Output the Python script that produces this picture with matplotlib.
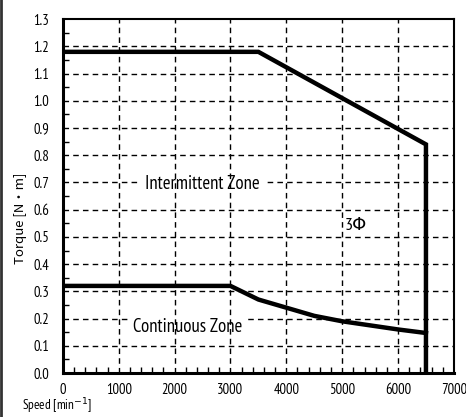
import matplotlib
matplotlib.use("Agg")
import matplotlib.pyplot as plt
from matplotlib.lines import Line2D
import numpy as np

# intermittent zone boundary
inter_speed = [0, 3500, 6500, 6500]
inter_torque = [1.18, 1.18, 0.84, 0.0]

# continuous zone boundary
cont_speed = [0, 3000, 3200, 3500, 4000, 4500, 5000, 5500, 6000, 6500]
cont_torque = [0.32, 0.32, 0.30, 0.27, 0.24, 0.21, 0.19, 0.175, 0.16, 0.147]

x_ticks = [0, 1000, 2000, 3000, 4000, 5000, 6000, 7000]
y_ticks = [0.0, 0.1, 0.2, 0.3, 0.4, 0.5, 0.6, 0.7, 0.8, 0.9, 1.0, 1.1, 1.2, 1.3]

narrow = ['PT Sans Narrow', 'DejaVu Sans']

fig = plt.figure(figsize=(4.66, 4.17), dpi=100)
ax = fig.add_axes([0.135, 0.1055, 0.839, 0.8485])

ax.set_xlim(0, 7000)
ax.set_ylim(0, 1.3)

# grid drawn by hand so the text boxes can hide the horizontal dashes
for y in y_ticks[1:-1]:
    ax.axhline(y, color='black', lw=1.0, ls=(0, (4, 3)), zorder=1)
for x in x_ticks[1:-1]:
    ax.axvline(x, color='black', lw=1.0, ls=(0, (4, 3)), zorder=3)

ax.plot(inter_speed, inter_torque, color='black', lw=3.2, zorder=5,
        solid_joinstyle='miter')
ax.plot(cont_speed, cont_torque, color='black', lw=3.2, zorder=5)

ax.text(2500, 0.695, 'Intermittent Zone', ha='center', va='center',
        fontsize=13.5, family=narrow, zorder=2,
        bbox=dict(facecolor='white', edgecolor='none', pad=3))
ax.text(2240, 0.17, 'Continuous Zone', ha='center', va='center',
        fontsize=13.5, family=narrow, zorder=2,
        bbox=dict(facecolor='white', edgecolor='none', pad=4))
ax.text(5250, 0.54, '3Φ', ha='center', va='center', fontsize=13,
        family=narrow, zorder=4)

ax.set_xticks(x_ticks)
ax.set_yticks(y_ticks)
ax.set_xticklabels([str(v) for v in x_ticks], family=narrow, fontsize=10.5)
ax.set_yticklabels(['%.1f' % v for v in y_ticks], family=narrow, fontsize=10.5)
ax.set_xticks(np.arange(0, 7001, 200), minor=True)
ax.set_yticks(np.arange(0, 1.31, 0.05), minor=True)
ax.tick_params(axis='x', which='major', length=0, pad=7)
ax.tick_params(axis='y', which='major', length=0, pad=10)
ax.tick_params(which='minor', direction='in', length=4, width=1)

for side in ['left', 'bottom']:
    ax.spines[side].set_linewidth(2.2)
for side in ['right', 'top']:
    ax.spines[side].set_linewidth(1.5)

fig.text(0.043, 0.477, 'Torque [N・m]', rotation=90, ha='center', va='center',
         fontsize=9.5, family=['Noto Sans CJK JP', 'DejaVu Sans'])
fig.text(0.047, 0.003, 'Speed [min$^{-1}$]', ha='left', va='bottom',
         fontsize=9.5, family=narrow)

fig.add_artist(Line2D([0.002, 0.002], [0, 1], transform=fig.transFigure,
                      color='#333333', lw=2))

fig.savefig('out.png', dpi=100)
